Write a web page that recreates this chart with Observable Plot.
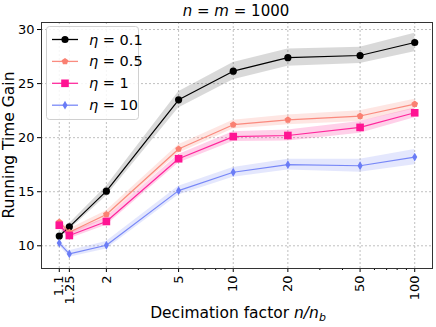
<!DOCTYPE html>
<html><head><meta charset="utf-8">
<script src="https://cdn.jsdelivr.net/npm/d3@7"></script>
<script src="https://cdn.jsdelivr.net/npm/@observablehq/plot@0.6"></script>
<style>body{margin:0;background:#fff} #chart{width:436px;height:327px}</style>
</head><body><div id="chart"></div>
<script>
// ---- data ----
const decimation = [1.1, 1.25, 2, 5, 10, 20, 50, 100];
const xTickLabels = ["1.1", "1.25", "2", "5", "10", "20", "50", "100"];
const xMinorTicks = [3, 4, 6, 7, 8, 9, 30, 40, 60, 70, 80, 90];
const yTicks = [10, 15, 20, 25, 30];
const etaNames = ["0.1", "0.5", "1", "10"];
const gainEta01 = [10.9, 11.75, 15.05, 23.5, 26.15, 27.4, 27.6, 28.8];
const gainEta05 = [12.2, 11.25, 12.9, 18.95, 21.2, 21.65, 22.0, 23.1];
const gainEta1  = [11.9, 10.95, 12.25, 18.05, 20.1, 20.2, 20.95, 22.3];
const gainEta10 = [10.25, 9.25, 10.05, 15.1, 16.8, 17.5, 17.4, 18.2];
const errEta01 = [0.15, 0.3, 0.45, 0.75, 0.8, 0.8, 0.75, 0.85];
const errEta05 = [0.25, 0.3, 0.35, 0.4, 0.4, 0.45, 0.5, 0.45];
const errEta1  = [0.25, 0.3, 0.35, 0.4, 0.45, 0.5, 0.55, 0.45];
const errEta10 = [0.25, 0.3, 0.35, 0.4, 0.45, 0.5, 0.6, 0.7];

// ---- symbols ----
const pentagon = {draw(ctx, size) {
  const r = Math.sqrt(size / Math.PI) * 1.1;
  for (let i = 0; i < 5; i++) {
    const a = -Math.PI / 2 + i * 2 * Math.PI / 5;
    const px = r * Math.cos(a), py = r * Math.sin(a);
    i ? ctx.lineTo(px, py) : ctx.moveTo(px, py);
  }
  ctx.closePath();
}};
const thinDiamond = {draw(ctx, size) {
  const r = Math.sqrt(size / Math.PI);
  ctx.moveTo(0, -r * 1.3); ctx.lineTo(r * 0.75, 0); ctx.lineTo(0, r * 1.3); ctx.lineTo(-r * 0.75, 0); ctx.closePath();
}};

const series = [
  {name: etaNames[0], values: gainEta01, err: errEta01, color: "#000000", band: "#000000", bandOpacity: 0.15, symbol: "circle", r: 3.6},
  {name: etaNames[1], values: gainEta05, err: errEta05, color: "#fa8072", band: "#fa8072", bandOpacity: 0.2, symbol: pentagon, r: 3.2},
  {name: etaNames[2], values: gainEta1,  err: errEta1,  color: "#ff1493", band: "#ff1493", bandOpacity: 0.2, symbol: "square", r: 4.3},
  {name: etaNames[3], values: gainEta10, err: errEta10, color: "#6a7cf6", band: "#6a7cf6", bandOpacity: 0.18, symbol: thinDiamond, r: 3.4}
];

const tickLabelOf = new Map(decimation.map((d, i) => [d, xTickLabels[i]]));

const marks = [
  Plot.gridX(decimation, {tickSpacing: 1, stroke: "#b0b0b0", strokeOpacity: 1, strokeDasharray: "2,2", strokeWidth: 0.8}),
  Plot.gridY(yTicks, {stroke: "#b0b0b0", strokeOpacity: 1, strokeDasharray: "2,2", strokeWidth: 0.8})
];
for (const s of series) {
  const rows = decimation.map((x, i) => ({x, y: s.values[i], lo: s.values[i] - s.err[i], hi: s.values[i] + s.err[i]}));
  marks.push(Plot.areaY(rows, {x: "x", y1: "lo", y2: "hi", fill: s.band, fillOpacity: s.bandOpacity}));
}
for (const s of series) {
  const rows = decimation.map((x, i) => ({x, y: s.values[i]}));
  marks.push(Plot.line(rows, {x: "x", y: "y", stroke: s.color, strokeWidth: 1.2, strokeOpacity: s.name === "0.1" ? 1 : 0.9}));
  marks.push(Plot.dot(rows, {x: "x", y: "y", fill: s.color, stroke: "none", symbol: s.symbol, r: s.r}));
}
marks.push(
  Plot.axisX(xMinorTicks, {tickSpacing: 1, tickFormat: () => "", tickSize: 2, label: null}),
  Plot.axisX(decimation, {tickSpacing: 1, tickFormat: d => tickLabelOf.get(d) ?? String(d), tickRotate: -90, tickSize: 4, tickPadding: 3, fontSize: 13, label: null}),
  Plot.axisY(yTicks, {tickSize: 4, tickPadding: 3, fontSize: 13, label: null}),
  Plot.frame({stroke: "#333", strokeWidth: 1})
);

const svg = Plot.plot({
  width: 436, height: 327,
  marginLeft: 41, marginRight: 4, marginTop: 22, marginBottom: 59,
  style: {fontFamily: "DejaVu Sans", fontSize: "13px", color: "#000", background: "white"},
  x: {type: "log", domain: [0.878, 125.3]},
  y: {domain: [7.9, 30.65]},
  marks
});
document.getElementById("chart").appendChild(svg);

const g = d3.select(svg).append("g").attr("font-family", "DejaVu Sans").attr("fill", "#000");
// title
const t = g.append("text").attr("x", 236).attr("y", 16).attr("text-anchor", "middle").attr("font-size", 15);
t.append("tspan").attr("font-style", "italic").text("n");
t.append("tspan").text(" = ");
t.append("tspan").attr("font-style", "italic").text("m");
t.append("tspan").text(" = 1000");
// y label
g.append("text").attr("transform", "translate(14,145) rotate(-90)").attr("text-anchor", "middle").attr("font-size", 15.5).text("Running Time Gain");
// x label
const xl = g.append("text").attr("x", 238).attr("y", 318).attr("text-anchor", "middle").attr("font-size", 15.5);
xl.append("tspan").text("Decimation factor ");
xl.append("tspan").attr("font-style", "italic").text("n/n");
xl.append("tspan").attr("font-style", "italic").attr("font-size", 11).attr("dy", 3).text("b");

// legend
const lg = g.append("g");
lg.append("rect").attr("x", 46.5).attr("y", 26.5).attr("width", 92).attr("height", 93).attr("rx", 3)
  .attr("fill", "white").attr("fill-opacity", 0.85).attr("stroke", "#d0d0d0");
series.forEach((s, i) => {
  const cy = 39.5 + i * 21.9;
  lg.append("line").attr("x1", 52).attr("x2", 78).attr("y1", cy).attr("y2", cy).attr("stroke", s.color).attr("stroke-width", 1.3).attr("stroke-opacity", i ? 0.9 : 1);
  const type = typeof s.symbol === "string" ? (s.symbol === "circle" ? d3.symbolCircle : d3.symbolSquare) : s.symbol;
  lg.append("path").attr("transform", `translate(65,${cy})`).attr("d", d3.symbol(type, s.r * s.r * Math.PI)()).attr("fill", s.color);
  const tx = lg.append("text").attr("x", 89).attr("y", cy + 5).attr("font-size", 14.5).attr("text-anchor", "start");
  tx.append("tspan").attr("font-style", "italic").text("η");
  tx.append("tspan").text(" = " + s.name);
});
</script></body></html>
